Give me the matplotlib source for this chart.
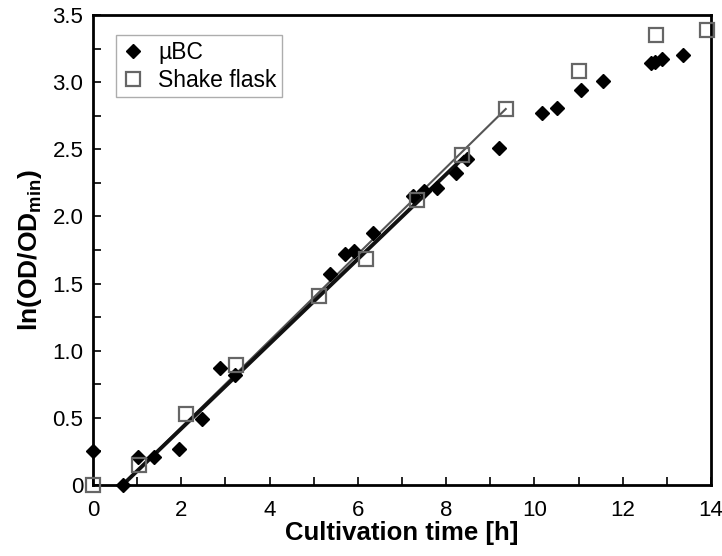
import matplotlib
matplotlib.use("Agg")
import matplotlib.pyplot as plt
from matplotlib.ticker import MultipleLocator, FuncFormatter

plt.rcParams['font.family'] = ['Liberation Sans', 'DejaVu Sans']
plt.rcParams['mathtext.fontset'] = 'custom'
plt.rcParams['mathtext.rm'] = 'Liberation Sans'
plt.rcParams['mathtext.bf'] = 'Liberation Sans:bold'

# μBC data
mu_t = [0.0, 0.67, 1.01, 1.39, 1.95, 2.48, 2.88, 3.22, 5.38, 5.72, 5.91, 6.35,
        7.26, 7.50, 7.79, 8.22, 8.48, 9.20, 10.18, 10.50, 11.05, 11.56,
        12.63, 12.73, 12.88, 13.37]
mu_y = [0.25, 0.0, 0.21, 0.21, 0.27, 0.49, 0.87, 0.82, 1.57, 1.72, 1.745, 1.88,
        2.15, 2.19, 2.21, 2.32, 2.43, 2.51, 2.77, 2.81, 2.94, 3.01,
        3.14, 3.15, 3.17, 3.20]

# Shake flask data
sf_t = [0.0, 1.05, 2.11, 3.24, 5.12, 6.19, 7.35, 8.35, 9.35, 11.01, 12.75, 13.92]
sf_y = [0.0, 0.15, 0.53, 0.89, 1.41, 1.685, 2.12, 2.46, 2.80, 3.08, 3.35, 3.39]

# Fit lines (endpoints)
mu_fit_t = [0.67, 8.40]
mu_fit_y = [0.0, 2.44]
sf_fit_t = [0.67, 9.35]
sf_fit_y = [0.0, 2.80]

fig = plt.figure(figsize=(7.22, 5.56), dpi=100)
ax = fig.add_axes([93/722, 1-485/556, (711-93)/722, (485-15)/556])

ax.plot(sf_fit_t, sf_fit_y, color='#555555', lw=1.5, zorder=2)
ax.plot(mu_fit_t, mu_fit_y, color='#111111', lw=2.8, zorder=2)

ax.plot(mu_t, mu_y, linestyle='none', marker='D', ms=7.5, color='black',
        label='µBC', zorder=3, clip_on=False)
ax.plot(sf_t, sf_y, linestyle='none', marker='s', ms=10, mfc='none',
        mec='#666666', mew=1.6, label='Shake flask', zorder=4, clip_on=False)

ax.set_xlim(0, 14)
ax.set_ylim(0, 3.5)
ax.xaxis.set_major_locator(MultipleLocator(2))
ax.xaxis.set_minor_locator(MultipleLocator(1))
ax.yaxis.set_major_locator(MultipleLocator(0.5))
ax.yaxis.set_minor_locator(MultipleLocator(0.25))
ax.yaxis.set_major_formatter(FuncFormatter(lambda v, p: '0' if abs(v) < 1e-9 else f'{v:.1f}'))

ax.tick_params(which='both', direction='in', labelsize=16, width=1.2)
ax.tick_params(which='major', length=6)
ax.tick_params(which='minor', length=6)
ax.tick_params(axis='x', pad=11)
ax.tick_params(axis='y', pad=7)
for s in ax.spines.values():
    s.set_linewidth(2)

ax.set_xlabel('Cultivation time [h]', fontsize=18.5, fontweight='bold', labelpad=0)
ax.set_ylabel(r'$\mathbf{ln(OD/OD}_{\mathbf{min}}\mathbf{)}$', fontsize=19, labelpad=6)

leg = ax.legend(loc='upper left', bbox_to_anchor=(0.037, 0.957), borderaxespad=0,
                fontsize=16.5, frameon=True, fancybox=False, edgecolor='#999999',
                handletextpad=0.6, borderpad=0.25, labelspacing=0.2,
                handlelength=1.0)
leg.get_frame().set_linewidth(1.0)

fig.savefig('out.png', dpi=100)
